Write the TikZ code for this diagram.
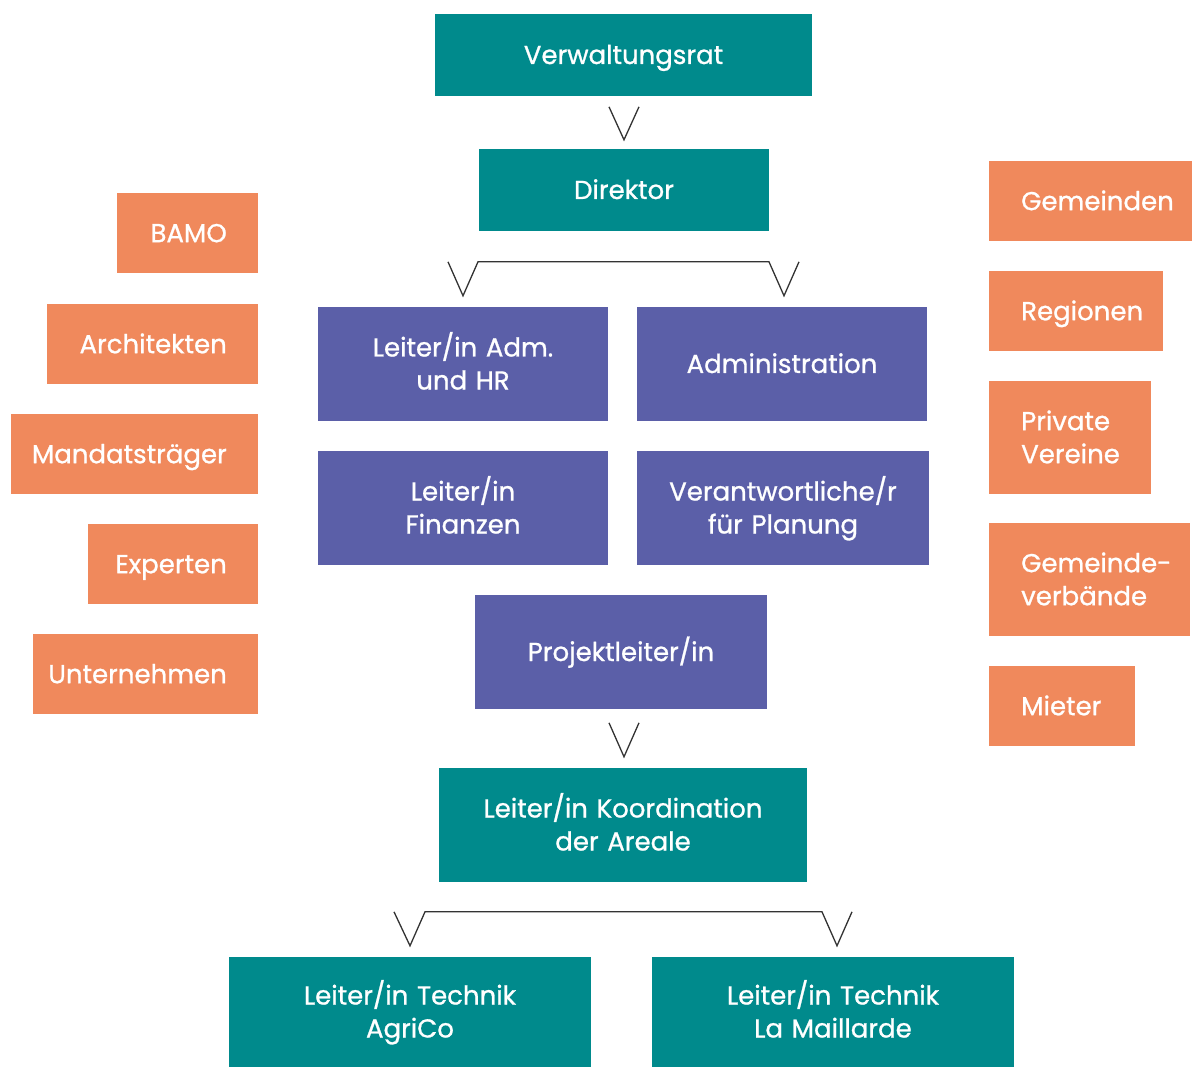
\documentclass[tikz,border=0pt]{standalone}
\usepackage{fontspec}
\setmainfont{Poppins}[FakeBold=0.9]
\usetikzlibrary{calc}
\definecolor{orgTeal}{RGB}{0,138,140}
\definecolor{orgPurple}{RGB}{91,95,168}
\definecolor{orgOrange}{RGB}{240,137,92}
\definecolor{orgLine}{RGB}{51,51,51}
\begin{document}
\begin{tikzpicture}[x=1pt,y=-1pt,
  box/.style={inner sep=0pt, text=white, align=center,
    font=\fontsize{26}{33}\selectfont},
  oneline/.style={text height=18pt, text depth=0pt},
  twoline/.style={text height=18pt, text depth=33pt},
  tealbox/.style={box, fill=orgTeal},
  purplebox/.style={box, fill=orgPurple},
  leftbox/.style={box, oneline, fill=orgOrange, anchor=north east, align=flush right, minimum height=80pt},
  rightbox/.style={box, fill=orgOrange, anchor=north west, align=flush left, minimum height=80pt},
  vline/.style={draw=orgLine, line width=1.3pt, line join=miter}]
\useasboundingbox (0,0) rectangle (1192,1067);

% central hierarchy
\node[tealbox, oneline, text width=377pt, minimum height=82pt] (vr) at (623.5,55) {Verwaltungsrat};
\node[tealbox, oneline, text width=290pt, minimum height=82pt] (dir) at (624,190) {Direktor};
\node[purplebox, twoline, text width=290pt, minimum height=114pt] (adm) at (463,364) {Leiter/in Adm.\\und HR};
\node[purplebox, oneline, text width=290pt, minimum height=114pt] (admin) at (782,364) {Administration};
\node[purplebox, twoline, text width=290pt, minimum height=114pt] (fin) at (463,508) {Leiter/in\\Finanzen};
\node[purplebox, twoline, text width=292pt, minimum height=114pt] (plan) at (783,508) {Verantwortliche/r\\für Planung};
\node[purplebox, oneline, text width=292pt, minimum height=114pt] (proj) at (621,652) {Projektleiter/in};
\node[tealbox, twoline, text width=368pt, minimum height=114pt] (koord) at (623,825) {Leiter/in Koordination\\der Areale};
\node[tealbox, twoline, text width=362pt, minimum height=110pt] (agri) at (410,1012) {Leiter/in Technik\\AgriCo};
\node[tealbox, twoline, text width=362pt, minimum height=110pt] (mail) at (833,1012) {Leiter/in Technik\\La Maillarde};

% external partners, left
\node[leftbox, text width=141pt] (bamo) at (258,193) {BAMO\hspace*{31pt}};
\node[leftbox, text width=211pt] (arch) at (258,304) {Architekten\hspace*{31pt}};
\node[leftbox, text width=247pt] (mand) at (258,414) {Mandatsträger\hspace*{31pt}};
\node[leftbox, text width=170pt] (exp) at (258,524) {Experten\hspace*{31pt}};
\node[leftbox, text width=225pt] (unt) at (258,634) {Unternehmen\hspace*{31pt}};

% external partners, right
\node[rightbox, oneline, text width=203pt] (gem) at (989,161) {\hspace*{32pt}Gemeinden};
\node[rightbox, oneline, text width=174pt] (reg) at (989,271) {\hspace*{32pt}Regionen};
\node[rightbox, twoline, text width=162pt, minimum height=113pt] (priv) at (989,381) {\hspace*{32pt}Private\\\hspace*{32pt}Vereine};
\node[rightbox, twoline, text width=201pt, minimum height=113pt] (verb) at (989,523) {\hspace*{32pt}Gemeinde-\\\hspace*{32pt}verbände};
\node[rightbox, oneline, text width=146pt] (miet) at (989,666) {\hspace*{32pt}Mieter};

% connectors
\draw[vline] ($(dir.north)+(-15,-42)$) -- ($(dir.north)+(0,-9)$) -- ($(dir.north)+(15,-42)$);
\draw[vline] ($(adm.north)+(-15,-45)$) -- ($(adm.north)+(0,-11)$) -- ($(adm.north)+(15,-45)$)
  -- ($(admin.north)+(-13,-45)$) -- ($(admin.north)+(2,-11)$) -- ($(admin.north)+(17,-45)$);
\draw[vline] ($(koord.north)+(-14,-45)$) -- ($(koord.north)+(1,-11)$) -- ($(koord.north)+(16,-45)$);
\draw[vline] ($(agri.north)+(-16,-45)$) -- ($(agri.north)+(0,-11)$) -- ($(agri.north)+(15,-45)$)
  -- ($(mail.north)+(-11,-45)$) -- ($(mail.north)+(4,-11)$) -- ($(mail.north)+(19,-45)$);
\end{tikzpicture}
\end{document}
